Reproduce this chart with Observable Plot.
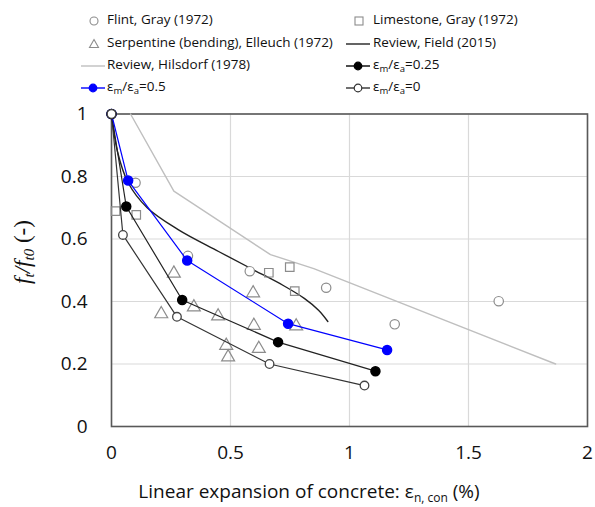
<!DOCTYPE html>
<html><head><meta charset="utf-8">
<script src="https://cdn.jsdelivr.net/npm/d3@7"></script>
<script src="https://cdn.jsdelivr.net/npm/@observablehq/plot@0.6"></script>
<style>
body{margin:0;background:#fff;font-family:"Open Sans",sans-serif;}
#wrap{position:relative;width:595px;height:507px;overflow:hidden;}
.lg{position:absolute;font-size:13.5px;color:#111;white-space:nowrap;line-height:1;}
.lg sub{font-size:9.5px;vertical-align:-3px;}
.sym{position:absolute;overflow:visible;}
#xt{position:absolute;top:478px;left:0;width:618px;text-align:center;font-size:19px;color:#111;white-space:nowrap;}
#xt sub{font-size:12px;vertical-align:-4px;}
#yt{position:absolute;left:24px;top:252px;transform:translate(-50%,-50%) rotate(-90deg);font-family:"Liberation Serif",serif;font-size:23px;white-space:nowrap;color:#111;}
#yt sub{font-size:15px;vertical-align:-4px;}
#plot{position:absolute;left:0;top:100px;}
</style></head>
<body><div id="wrap"><div id="legend"></div><div id="plot"></div>
<div id="xt">Linear expansion of concrete: ε<sub>n, con</sub> (%)</div>
<div id="yt"><i>f<sub>t</sub>/f<sub>t0</sub></i> (-)</div></div>
<script>
// ---- data ----
const flintX = [0, 0.101, 0.321, 0.581, 0.902, 1.19, 1.627];
const flintY = [1, 0.78, 0.546, 0.497, 0.444, 0.327, 0.401];
const limeX = [0.017, 0.104, 0.661, 0.749, 0.770];
const limeY = [0.689, 0.677, 0.492, 0.51, 0.433];
const serpX = [0.262, 0.209, 0.346, 0.448, 0.595, 0.598, 0.776, 0.482, 0.619, 0.49];
const serpY = [0.49, 0.36, 0.382, 0.353, 0.427, 0.323, 0.321, 0.259, 0.249, 0.222];
const fieldX = [0, 0.025, 0.07, 0.15, 0.28, 0.45, 0.6, 0.72, 0.81, 0.87, 0.909];
const fieldY = [1, 0.88, 0.78, 0.70, 0.63, 0.56, 0.5, 0.452, 0.41, 0.372, 0.336];
const hilsX = [0.08, 0.262, 0.668, 0.85, 1.866];
const hilsY = [1, 0.753, 0.55, 0.505, 0.2];
const r25X = [0, 0.062, 0.297, 0.700, 1.109];
const r25Y = [1, 0.704, 0.405, 0.270, 0.177];
const r50X = [0, 0.070, 0.318, 0.742, 1.158];
const r50Y = [1, 0.787, 0.531, 0.329, 0.245];
const r0X = [0, 0.048, 0.275, 0.664, 1.063];
const r0Y = [1, 0.613, 0.351, 0.200, 0.131];
const xTicks = [0, 0.5, 1, 1.5, 2];
const yTicks = [0, 0.2, 0.4, 0.6, 0.8, 1];

const zip = (xs, ys) => xs.map((x, i) => ({x, y: ys[i]}));
const flint = zip(flintX, flintY), lime = zip(limeX, limeY), serp = zip(serpX, serpY);
const field = zip(fieldX, fieldY), hils = zip(hilsX, hilsY);
const r25 = zip(r25X, r25Y), r50 = zip(r50X, r50Y), r0 = zip(r0X, r0Y);
const gray = "#8c8c8c";

const chart = Plot.plot({
  width: 595, height: 407,
  marginLeft: 111, marginRight: 8, marginTop: 13.5, marginBottom: 81,
  style: {fontFamily: "Open Sans, sans-serif", fontSize: "19px", color: "#111", background: "transparent"},
  x: {domain: [0, 2], ticks: xTicks, tickFormat: d => String(d), tickSize: 0, tickPadding: 19, label: null},
  y: {domain: [0, 1], ticks: yTicks, tickFormat: d => String(d), tickSize: 0, tickPadding: 24, label: null},
  marks: [
    Plot.gridX(xTicks, {stroke: "#d9d9d9", strokeOpacity: 1, strokeWidth: 1.2}),
    Plot.gridY(yTicks, {stroke: "#d9d9d9", strokeOpacity: 1, strokeWidth: 1.2}),
    Plot.frame({stroke: "#595959", strokeWidth: 1.6}),
    Plot.line(hils, {x: "x", y: "y", stroke: "#bfbfbf", strokeWidth: 1.4}),
    Plot.line(field, {x: "x", y: "y", stroke: "#222", strokeWidth: 1.4, curve: "catmull-rom"}),
    Plot.dot(flint, {x: "x", y: "y", r: 4.7, stroke: gray, fill: "white", strokeWidth: 1.2}),
    Plot.dot(lime, {x: "x", y: "y", symbol: "square", r: 4.8, stroke: gray, fill: "none", strokeWidth: 1.2}),
    Plot.dot(serp, {x: "x", y: "y", symbol: "triangle", r: 4.8, stroke: gray, fill: "none", strokeWidth: 1.2}),
    Plot.line(r0, {x: "x", y: "y", stroke: "#333", strokeWidth: 1.2}),
    Plot.line(r25, {x: "x", y: "y", stroke: "#222", strokeWidth: 1.2}),
    Plot.line(r50, {x: "x", y: "y", stroke: "#0000ff", strokeWidth: 1.2}),
    Plot.dot(r50, {x: "x", y: "y", r: 4.5, fill: "#0000ff", stroke: "#0000ff"}),
    Plot.dot(r25, {x: "x", y: "y", r: 4.5, fill: "black", stroke: "black"}),
    Plot.dot(r0, {x: "x", y: "y", r: 4.3, stroke: "#444", fill: "white", strokeWidth: 1.3}),
    Plot.axisX(xTicks, {tickSize: 0, tickPadding: 19, tickFormat: d => String(d), fontSize: 19}),
    Plot.axisY(yTicks, {tickSize: 0, tickPadding: 24, tickFormat: d => String(d), fontSize: 19})
  ]
});
document.getElementById("plot").appendChild(chart);

// ---- legend ----
const legendItems = [
  {col: 0, row: 0, sym: "circle", label: "Flint, Gray (1972)"},
  {col: 1, row: 0, sym: "square", label: "Limestone, Gray (1972)"},
  {col: 0, row: 1, sym: "triangle", label: "Serpentine (bending), Elleuch (1972)"},
  {col: 1, row: 1, sym: "line", color: "#222", label: "Review, Field (2015)"},
  {col: 0, row: 2, sym: "line", color: "#bfbfbf", label: "Review, Hilsdorf (1978)"},
  {col: 1, row: 2, sym: "linedot", color: "#000", fill: "#000", label: "ε<sub>m</sub>/ε<sub>a</sub>=0.25"},
  {col: 0, row: 3, sym: "linedot", color: "#0000ff", fill: "#0000ff", label: "ε<sub>m</sub>/ε<sub>a</sub>=0.5"},
  {col: 1, row: 3, sym: "linedot", color: "#333", fill: "#fff", label: "ε<sub>m</sub>/ε<sub>a</sub>=0"}
];
const rowY = [21, 44, 66, 88];
const colText = [107, 373];
const colSym = [94, 359];
const lg = document.getElementById("legend");
for (const it of legendItems) {
  const t = document.createElement("div");
  t.className = "lg";
  t.innerHTML = it.label;
  t.style.left = colText[it.col] + "px";
  t.style.top = (rowY[it.row] - 8) + "px";
  lg.appendChild(t);
  const s = d3.create("svg").attr("class", "sym").attr("width", 30).attr("height", 14)
    .style("left", (colSym[it.col] - 15) + "px").style("top", (rowY[it.row] - 7) + "px");
  const cx = 15, cy = 7;
  if (it.sym === "circle") s.append("circle").attr("cx", cx).attr("cy", cy).attr("r", 4).attr("fill", "none").attr("stroke", gray).attr("stroke-width", 1.1);
  if (it.sym === "square") s.append("rect").attr("x", cx - 4).attr("y", cy - 4).attr("width", 8).attr("height", 8).attr("fill", "none").attr("stroke", gray).attr("stroke-width", 1.1);
  if (it.sym === "triangle") s.append("path").attr("d", `M${cx},${cy - 4.5}L${cx + 4.5},${cy + 3.5}L${cx - 4.5},${cy + 3.5}Z`).attr("fill", "none").attr("stroke", gray).attr("stroke-width", 1.1);
  if (it.sym === "line" || it.sym === "linedot") s.append("line").attr("x1", cx - 13).attr("x2", cx + 11).attr("y1", cy).attr("y2", cy).attr("stroke", it.color).attr("stroke-width", 1.4);
  if (it.sym === "linedot") s.append("circle").attr("cx", cx - 1).attr("cy", cy).attr("r", 3.8).attr("fill", it.fill).attr("stroke", it.color).attr("stroke-width", 1.2);
  lg.appendChild(s.node());
}
</script></body></html>
